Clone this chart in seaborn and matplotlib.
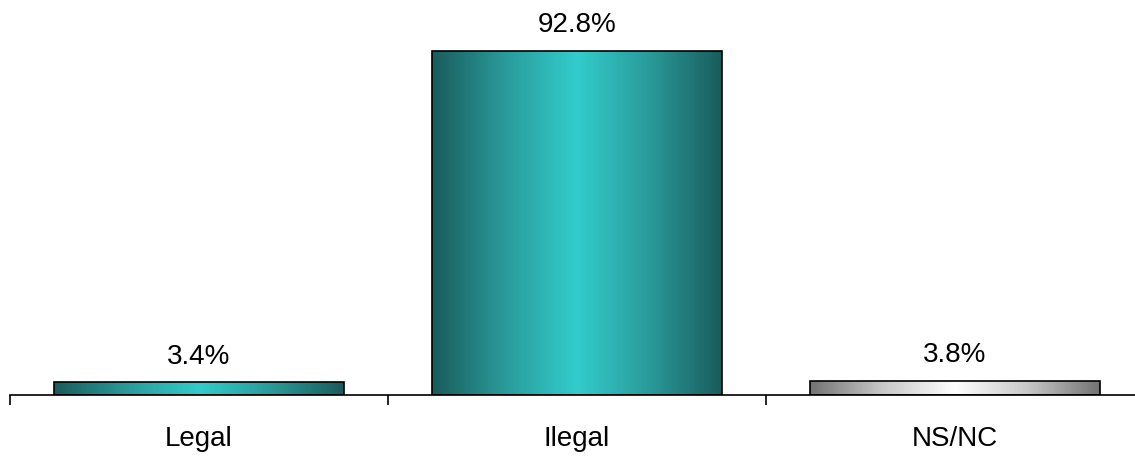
import numpy as np
import pandas as pd
import matplotlib
matplotlib.use('Agg')
import matplotlib.pyplot as plt
import seaborn as sns
from matplotlib.colors import LinearSegmentedColormap

categorias = ['Legal', 'Ilegal', 'NS/NC']
porcentajes = [3.4, 92.8, 3.8]
etiquetas = ['3.4%', '92.8%', '3.8%']

df = pd.DataFrame({'categoria': categorias, 'valor': porcentajes})

sns.set_style('white')
plt.rcParams['font.family'] = ['Liberation Sans', 'DejaVu Sans']
plt.rcParams['text.color'] = 'black'
plt.rcParams['xtick.color'] = 'black'

fig = plt.figure(figsize=(11.35, 4.57), dpi=100)
ax = fig.add_axes([10 / 1135, 62 / 457, 1134 / 1135, 370.7 / 457])

sns.barplot(x='categoria', y='valor', data=df, width=0.767, color='white',
            edgecolor='black', linewidth=1.2, ax=ax)

# degradados horizontales: oscuro en los bordes, claro en el centro
teal = LinearSegmentedColormap.from_list('teal', ['#1a5c5c', '#2a9a9a', '#33cccc', '#2a9a9a', '#1a5c5c'])
gris = LinearSegmentedColormap.from_list('gris', ['#737373', '#c8c8c8', '#ffffff', '#c8c8c8', '#737373'])
mapas = [teal, teal, gris]

grad = np.linspace(0, 1, 256).reshape(1, -1)
for barra, cmap in zip(ax.patches, mapas):
    x0, y0 = barra.get_x(), barra.get_y()
    w, h = barra.get_width(), barra.get_height()
    img = ax.imshow(grad, cmap=cmap, aspect='auto', extent=[x0, x0 + w, y0, y0 + h],
                    zorder=barra.get_zorder() - 0.1)
    img.set_clip_path(barra)
    barra.set_facecolor('none')

for i, (v, t) in enumerate(zip(porcentajes, etiquetas)):
    ax.annotate(t, (i, v), xytext=(0, 9), textcoords='offset points',
                ha='center', va='bottom', fontsize=20, color='black')

ax.set_xlim(-0.5, 2.5)
ax.set_ylim(0, 100)
ax.set_xlabel('')
ax.set_ylabel('')
ax.set_yticks([])
ax.set_xticks([-0.5, 0.5, 1.5, 2.5])
ax.set_xticklabels([])
ax.set_xticks([0, 1, 2], minor=True)
ax.set_xticklabels(categorias, minor=True, fontsize=20, color='black')
ax.tick_params(axis='x', which='major', direction='out', length=7, width=1.2, color='black', bottom=True)
ax.tick_params(axis='x', which='minor', length=0, pad=22)
for lado in ['top', 'right', 'left']:
    ax.spines[lado].set_visible(False)
ax.spines['bottom'].set_color('black')
ax.spines['bottom'].set_linewidth(1.2)

fig.savefig('out.png', dpi=100)
